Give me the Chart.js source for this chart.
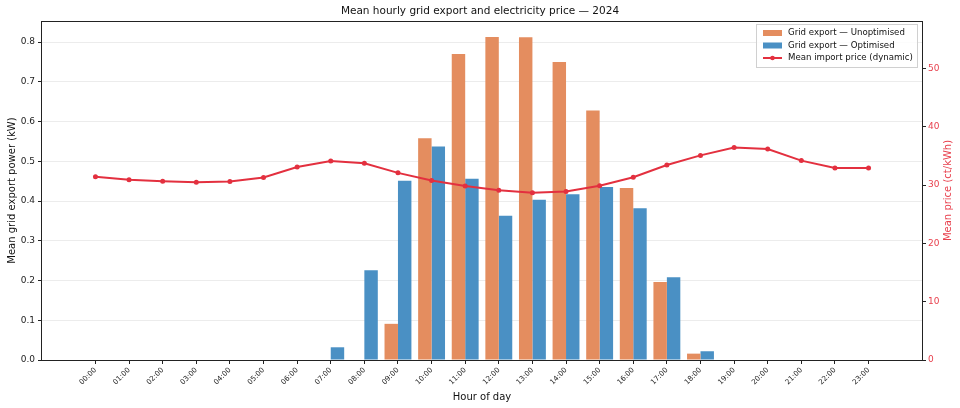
<!DOCTYPE html>
<html>
<head>
<meta charset="utf-8">
<script src="https://cdn.jsdelivr.net/npm/chart.js@4"></script>
<style>
  html, body { margin: 0; padding: 0; background: #fff; }
  #wrap { width: 960px; height: 408px; }
</style>
</head>
<body>
<div id="wrap"><canvas id="myChart"></canvas></div>
<script>
// hourly means
var hours = [0,1,2,3,4,5,6,7,8,9,10,11,12,13,14,15,16,17,18,19,20,21,22,23];
var exportUnopt = [0,0,0,0,0,0,0,0,0,0.091,0.558,0.770,0.813,0.812,0.750,0.628,0.433,0.196,0.016,0,0,0,0,0];
var exportOpt   = [0,0,0,0,0,0,0,0.032,0.226,0.451,0.537,0.456,0.363,0.403,0.417,0.435,0.382,0.208,0.022,0,0,0,0,0];
var priceDyn = [31.45,30.9,30.65,30.5,30.6,31.3,33.1,34.15,33.75,32.1,30.8,29.85,29.1,28.7,28.9,29.9,31.35,33.45,35.1,36.45,36.2,34.2,32.95,32.95];

var FONT = "'DejaVu Sans', sans-serif";
var ORANGE = "#e48d5f";
var BLUE = "#4a90c4";
var RED = "#e3303f";
var RED_TXT = "#e8404d";

function pts(vals) {
  return hours.map(function (h, i) { return { x: h, y: vals[i] }; });
}

// frame, legend box and right-hand axis title
var extras = {
  id: "extras",
  afterDraw: function (chart) {
    var ctx = chart.ctx, a = chart.chartArea;
    ctx.save();
    ctx.strokeStyle = "#222";
    ctx.lineWidth = 1;
    ctx.strokeRect(Math.round(a.left) - 0.5, Math.round(a.top) + 0.5,
      Math.round(a.right - a.left) + 1, Math.round(a.bottom - a.top));

    // legend
    var bx = 756, by = 24, bw = 161, bh = 43;
    ctx.fillStyle = "rgba(255,255,255,0.85)";
    ctx.fillRect(bx, by, bw, bh);
    ctx.strokeStyle = "#d0d0d0";
    ctx.strokeRect(bx + 0.5, by + 0.5, bw, bh);
    ctx.font = "8.6px " + FONT;
    ctx.textBaseline = "middle";
    ctx.textAlign = "left";
    var rows = [
      { t: "Grid export \u2014 Unoptimised", c: ORANGE, kind: "bar" },
      { t: "Grid export \u2014 Optimised", c: BLUE, kind: "bar" },
      { t: "Mean import price (dynamic)", c: RED, kind: "line" }
    ];
    rows.forEach(function (r, i) {
      var y = 33 + i * 12.5;
      if (r.kind === "bar") {
        ctx.fillStyle = r.c;
        ctx.fillRect(763, y - 3, 19, 6);
      } else {
        ctx.strokeStyle = r.c;
        ctx.lineWidth = 2;
        ctx.beginPath(); ctx.moveTo(763, y); ctx.lineTo(782, y); ctx.stroke();
        ctx.fillStyle = r.c;
        ctx.beginPath(); ctx.arc(772.5, y, 2.3, 0, Math.PI * 2); ctx.fill();
      }
      ctx.fillStyle = "#111";
      ctx.fillText(r.t, 788, y);
    });

    // right axis title, reading bottom to top like the left one
    ctx.translate(948, (a.top + a.bottom) / 2);
    ctx.rotate(-Math.PI / 2);
    ctx.textAlign = "center";
    ctx.fillStyle = RED_TXT;
    ctx.font = "10px " + FONT;
    ctx.fillText("Mean price (ct/kWh)", 0, 0);
    ctx.restore();
  }
};

new Chart("myChart", {
  type: "bar",
  data: {
    datasets: [
      {
        type: "line",
        label: "Mean import price (dynamic)",
        data: pts(priceDyn),
        yAxisID: "yPrice",
        borderColor: RED,
        backgroundColor: RED,
        borderWidth: 2,
        pointRadius: 2.5,
        pointBackgroundColor: RED,
        pointBorderWidth: 0,
        tension: 0,
        order: 0
      },
      {
        label: "Grid export \u2014 Unoptimised",
        data: pts(exportUnopt),
        yAxisID: "y",
        backgroundColor: ORANGE,
        borderWidth: 0,
        categoryPercentage: 0.8,
        barPercentage: 1.0,
        order: 1
      },
      {
        label: "Grid export \u2014 Optimised",
        data: pts(exportOpt),
        yAxisID: "y",
        backgroundColor: BLUE,
        borderWidth: 0,
        categoryPercentage: 0.8,
        barPercentage: 1.0,
        order: 1
      }
    ]
  },
  options: {
    responsive: true,
    maintainAspectRatio: false,
    animation: false,
    layout: { padding: 0 },
    plugins: {
      legend: { display: false },
      tooltip: { enabled: false },
      title: {
        display: true,
        text: "Mean hourly grid export and electricity price \u2014 2024",
        color: "#111",
        font: { family: FONT, size: 10.5, weight: "normal" },
        padding: { top: 5, bottom: 3.4 }
      }
    },
    scales: {
      x: {
        type: "linear",
        min: -1.59,
        max: 24.59,
        offset: false,
        afterBuildTicks: function (s) {
          s.ticks = hours.map(function (h) { return { value: h }; });
        },
        afterFit: function (s) { s.height = 48; },
        grid: { offset: false, drawOnChartArea: false, drawTicks: true, tickLength: 4, tickColor: "#222" },
        border: { display: false },
        ticks: {
          autoSkip: false,
          maxRotation: 45,
          minRotation: 45,
          padding: 2,
          color: "#222",
          font: { family: FONT, size: 7.2 },
          callback: function (v) { return (v < 10 ? "0" : "") + v + ":00"; }
        },
        title: {
          display: true,
          text: "Hour of day",
          color: "#111",
          font: { family: FONT, size: 10 },
          padding: { top: 0, bottom: 5 }
        }
      },
      y: {
        position: "left",
        min: 0,
        max: 0.853,
        afterBuildTicks: function (s) {
          s.ticks = s.ticks.filter(function (t) { return Math.abs(t.value * 10 - Math.round(t.value * 10)) < 1e-6; });
        },
        afterFit: function (s) { s.width = 42; },
        grid: { color: "#ececec", tickColor: "#222", tickLength: 4 },
        border: { display: false },
        ticks: {
          stepSize: 0.1,
          color: "#222",
          padding: 3,
          font: { family: FONT, size: 9 },
          callback: function (v) { return v.toFixed(1); }
        },
        title: {
          display: true,
          text: "Mean grid export power (kW)",
          color: "#111",
          font: { family: FONT, size: 10 },
          padding: { top: 6, bottom: 0 }
        }
      },
      yPrice: {
        position: "right",
        min: 0,
        max: 58.15,
        afterBuildTicks: function (s) {
          s.ticks = s.ticks.filter(function (t) { return t.value % 10 === 0; });
        },
        afterFit: function (s) { s.width = 38; },
        grid: { drawOnChartArea: false, tickColor: "#222", tickLength: 4 },
        border: { display: false },
        ticks: {
          stepSize: 10,
          color: RED_TXT,
          padding: 2,
          font: { family: FONT, size: 9 }
        }
      }
    }
  },
  plugins: [extras]
});
</script>
</body>
</html>
